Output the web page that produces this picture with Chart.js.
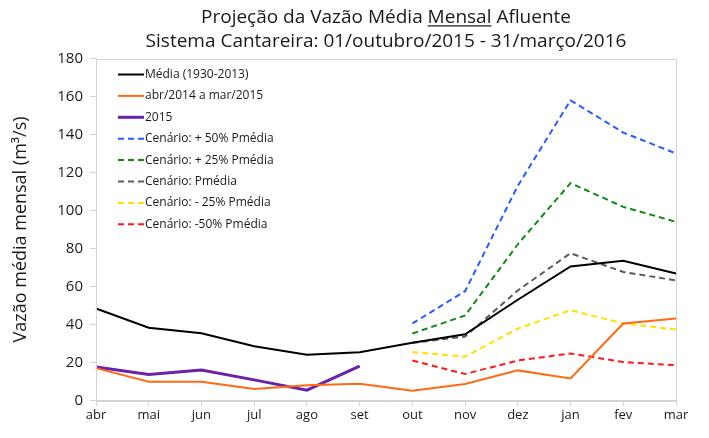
<!DOCTYPE html>
<html>
<head>
<meta charset="utf-8">
<script src="https://cdn.jsdelivr.net/npm/chart.js@4.4.0/dist/chart.umd.min.js"></script>
<style>
  html, body { margin: 0; padding: 0; background: #fff; }
  #wrap { width: 709px; height: 438px; }
</style>
</head>
<body>
<div id="wrap"><canvas id="myChart" width="709" height="438"></canvas></div>
<script>
// months on the x axis
var meses = ['abr', 'mai', 'jun', 'jul', 'ago', 'set', 'out', 'nov', 'dez', 'jan', 'fev', 'mar'];

// series (m3/s)
var media = [48.4, 38.3, 35.3, 28.5, 24, 25.3, 30.3, 34.8, 53, 70.5, 73.5, 66.8];
var abr2014 = [17, 9.8, 9.8, 6, 8, 8.8, 5.1, 8.6, 15.8, 11.5, 40.5, 43.1];
var ano2015 = [17.6, 13.7, 16, 10.8, 5.4, 18, null, null, null, null, null, null];
var mais50 = [null, null, null, null, null, null, 40.5, 57.5, 113, 158, 141, 130];
var mais25 = [null, null, null, null, null, null, 35.2, 44.7, 82.2, 114.4, 101.9, 94];
var pmedia = [null, null, null, null, null, null, 30.3, 33.6, 57.9, 77.5, 67.6, 63.2];
var menos25 = [null, null, null, null, null, null, 25.5, 23, 37.8, 47.5, 40.5, 37.3];
var menos50 = [null, null, null, null, null, null, 21, 13.9, 21, 24.7, 20.2, 18.5];

var yMin = 0, yMax = 180, yStep = 20;

var titulo1 = 'Projeção da Vazão Média Mensal Afluente';
var titulo2 = 'Sistema Cantareira: 01/outubro/2015 - 31/março/2016';
var sublinhado = 'Mensal';

var FONT = "'Open Sans', sans-serif";
var TITLE_SIZE = 19;
var TITLE_LH = 1.25;
var TITLE_PAD_TOP = 6;

// legend drawn inside the plot, top left, plus frame and title underline
var innerLegend = {
    id: 'innerLegend',
    afterDraw: function(chart) {
        var ctx = chart.ctx;
        var area = chart.chartArea;
        // light frame round the plot area
        ctx.save();
        ctx.strokeStyle = '#d4d4d4';
        ctx.lineWidth = 1;
        ctx.strokeRect(Math.round(area.left) + 0.5, Math.round(area.top) + 0.5,
            Math.round(area.right - area.left), Math.round(area.bottom - area.top));

        var x0 = area.left + 22;
        var y0 = area.top + 16;
        ctx.font = '12px ' + FONT;
        ctx.textBaseline = 'middle';
        chart.data.datasets.forEach(function(ds, i) {
            var y = y0 + i * 21.4;
            ctx.beginPath();
            ctx.setLineDash(ds.borderDash || []);
            ctx.strokeStyle = ds.borderColor;
            ctx.lineWidth = ds.borderWidth;
            ctx.moveTo(x0, y);
            ctx.lineTo(x0 + 26, y);
            ctx.stroke();
            ctx.setLineDash([]);
            ctx.fillStyle = '#1a1a1a';
            ctx.fillText(ds.label, x0 + 27, y);
        });

        // underline "Mensal" in the first title line
        var tb = chart.titleBlock;
        if (tb) {
            ctx.font = TITLE_SIZE + 'px ' + FONT;
            var cx = (tb.left + tb.right) / 2;
            var full = ctx.measureText(titulo1).width;
            var idx = titulo1.indexOf(sublinhado);
            var pre = ctx.measureText(titulo1.substring(0, idx)).width;
            var w = ctx.measureText(sublinhado).width;
            var lineY = tb.top + TITLE_PAD_TOP + TITLE_SIZE * TITLE_LH / 2 + TITLE_SIZE * 0.42;
            ctx.beginPath();
            ctx.strokeStyle = '#1a1a1a';
            ctx.lineWidth = 1.2;
            ctx.moveTo(cx - full / 2 + pre, lineY);
            ctx.lineTo(cx - full / 2 + pre + w, lineY);
            ctx.stroke();
        }
        ctx.restore();
    }
};

function serie(label, data, color, width, dashed) {
    return {
        label: label,
        data: data,
        borderColor: color,
        backgroundColor: color,
        borderWidth: width,
        borderDash: dashed ? [6, 4] : [],
        pointRadius: 0,
        tension: 0,
        spanGaps: false
    };
}

document.addEventListener('DOMContentLoaded', function() {
    var ctx = document.getElementById('myChart').getContext('2d');
    new Chart(ctx, {
        type: 'line',
        data: {
            labels: meses,
            datasets: [
                serie('Média (1930-2013)', media, '#000000', 2, false),
                serie('abr/2014 a mar/2015', abr2014, '#ff6a13', 2, false),
                serie('2015', ano2015, '#6a22a8', 3, false),
                serie('Cenário: + 50% Pmédia', mais50, '#2a5bff', 2, true),
                serie('Cenário: + 25% Pmédia', mais25, '#0d8a12', 2, true),
                serie('Cenário: Pmédia', pmedia, '#5a5a5a', 2, true),
                serie('Cenário: - 25% Pmédia', menos25, '#ffe000', 2, true),
                serie('Cenário: -50% Pmédia', menos50, '#ff1a1a', 2, true)
            ]
        },
        options: {
            responsive: false,
            animation: false,
            maintainAspectRatio: false,
            layout: { padding: { left: 10, right: 33, top: 0, bottom: 14 } },
            plugins: {
                legend: { display: false },
                tooltip: { enabled: false },
                title: {
                    display: true,
                    fullSize: false,
                    text: [titulo1, titulo2],
                    color: '#1a1a1a',
                    font: { family: FONT, size: TITLE_SIZE, weight: 'normal', lineHeight: TITLE_LH },
                    padding: { top: TITLE_PAD_TOP, bottom: 5 }
                }
            },
            scales: {
                x: {
                    offset: false,
                    grid: { display: true, drawOnChartArea: false, color: '#d4d4d4', tickLength: 6 },
                    border: { color: '#d4d4d4' },
                    ticks: { color: '#1a1a1a', font: { family: FONT, size: 13 }, maxRotation: 0, padding: 1 }
                },
                y: {
                    min: yMin,
                    max: yMax,
                    afterFit: function(scale) { scale.width = 86; },
                    grid: { display: true, drawOnChartArea: false, color: '#d4d4d4', tickLength: 6 },
                    border: { color: '#d4d4d4' },
                    ticks: { stepSize: yStep, color: '#1a1a1a', font: { family: FONT, size: 15 }, padding: 7 },
                    title: {
                        display: true,
                        text: 'Vazão média mensal (m³/s)',
                        color: '#1a1a1a',
                        font: { family: FONT, size: 18 },
                        padding: { top: 0, bottom: 2 }
                    }
                }
            }
        },
        plugins: [innerLegend]
    });
});
</script>
</body>
</html>
